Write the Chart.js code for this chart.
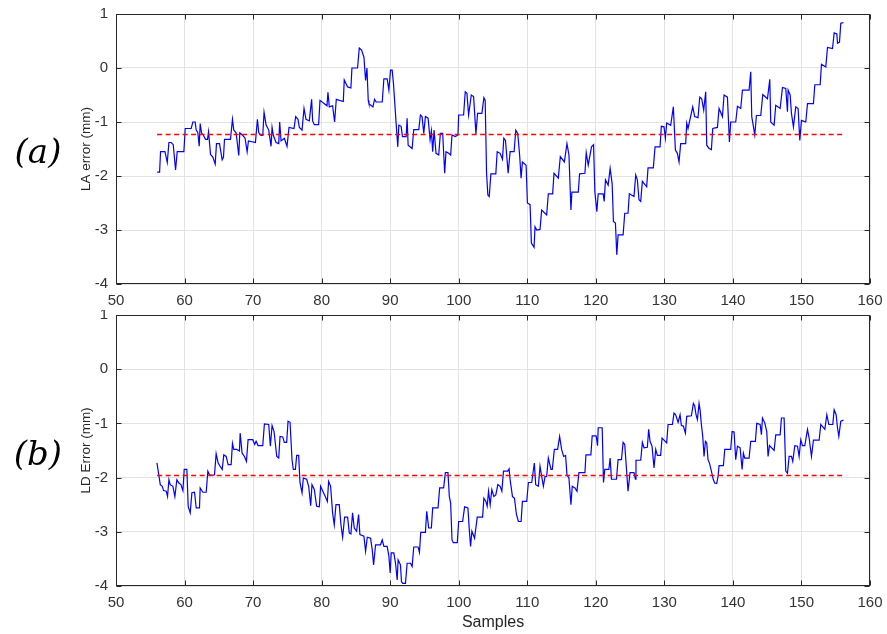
<!DOCTYPE html>
<html><head><meta charset="utf-8">
<script src="https://cdn.jsdelivr.net/npm/chart.js@4"></script>
<style>
html,body{margin:0;padding:0;background:#fff;}
#wrap{position:relative;width:887px;height:634px;overflow:hidden;background:#fff;}
canvas{position:absolute;left:0;}
#cA{top:0;} #cB{top:310px;}
.lab{position:absolute;left:0;width:76px;text-align:center;font-family:"DejaVu Serif",serif;font-style:italic;font-size:34px;color:#000;line-height:34px;}
#la{top:134px;} #lb{top:436px;}
</style></head><body>
<div id="wrap">
<canvas id="cA" width="887" height="315"></canvas>
<canvas id="cB" width="887" height="324"></canvas>
<div class="lab" id="la">(a)</div>
<div class="lab" id="lb">(b)</div>
</div>
<script>
// ---- data ----
const laX = [
56.0,56.36,56.5,57.14,57.48,57.72,58.06,58.35,58.69,58.93,
59.9,60.1,60.97,61.21,61.55,61.7,61.94,62.14,62.28,62.48,
62.77,63.06,63.35,63.5,63.79,64.13,64.47,64.66,65.1,65.49,
65.68,65.83,66.7,66.99,67.18,67.52,67.91,68.06,68.5,68.83,
69.13,69.32,70.34,70.63,70.83,71.17,71.41,71.6,71.89,72.28,
72.62,72.77,72.96,73.35,73.74,73.88,74.08,74.56,74.95,75.24,
75.97,76.21,76.55,76.75,77.14,77.43,77.72,78.2,78.54,78.69,
78.93,79.56,79.76,80.78,80.92,81.12,81.6,81.89,82.14,83.16,
83.3,83.79,84.27,84.42,85.24,85.49,85.83,86.17,86.41,86.61,
86.8,86.9,87.48,87.72,87.96,88.84,89.08,89.56,89.81,90.05,
90.29,90.48,90.87,91.11,91.26,91.6,91.79,92.33,92.47,92.62,
93.2,93.44,94.17,94.41,94.65,94.9,95.14,95.53,95.82,96.01,
96.2,96.4,96.69,97.08,97.32,97.66,97.95,98.14,98.53,98.82,
99.02,99.5,99.89,99.99,100.71,100.95,101.2,101.44,101.83,102.17,
102.51,102.75,103.38,103.67,103.86,104.06,104.25,104.45,104.69,105.41,
105.61,106.04,106.38,106.58,106.82,107.21,107.5,108.08,108.32,108.61,
108.9,109.1,109.29,109.83,110.02,110.41,110.6,110.99,111.13,111.38,
111.86,112.1,112.83,113.07,113.7,113.9,114.53,114.82,115.41,115.79,
116.08,116.37,116.51,117.44,117.63,118.41,118.6,118.89,119.37,119.67,
119.86,120.15,120.35,121.07,121.22,121.41,121.8,122.09,122.38,122.57,
122.86,123.06,123.25,123.98,124.22,124.7,124.89,125.57,125.82,126.06,
126.3,126.55,126.79,127.42,127.62,128.39,128.64,129.37,129.56,129.95,
130.15,130.34,130.92,131.31,131.61,131.9,132.14,132.38,133.11,133.26,
133.45,134.14,134.43,134.91,135.16,135.45,135.74,136.03,136.18,136.52,
136.86,137.06,137.74,137.98,138.47,138.71,139.2,139.49,139.68,140.41,
140.66,141.14,141.39,142.36,142.6,142.75,143.19,143.43,144.06,144.36,
145.04,145.38,145.52,146.01,146.25,146.89,147.23,147.71,147.96,148.05,
148.35,148.54,148.83,149.17,149.51,149.76,150.0,150.63,150.88,151.75,
151.95,152.73,152.92,153.55,153.8,154.53,154.77,155.16,155.26,155.55,
155.74,156.13
];
const laY = [
-1.93,-1.93,-1.55,-1.55,-1.75,-1.38,-1.38,-1.42,-1.89,-1.55,
-1.55,-1.12,-1.12,-1.0,-1.0,-1.15,-1.2,-1.45,-1.03,-1.2,
-1.25,-1.32,-1.32,-1.18,-1.6,-1.65,-1.78,-1.4,-1.4,-1.7,
-1.65,-1.32,-1.32,-0.95,-1.15,-1.2,-1.62,-1.2,-1.25,-1.3,
-1.55,-1.35,-1.38,-0.95,-1.2,-1.25,-1.25,-0.82,-1.05,-1.15,
-1.45,-1.1,-1.25,-1.38,-1.4,-1.0,-1.35,-1.3,-1.45,-1.1,
-1.12,-0.9,-0.95,-1.1,-1.15,-0.75,-0.95,-0.98,-0.58,-0.98,
-1.05,-1.05,-0.6,-0.7,-0.45,-0.72,-0.7,-1.0,-0.58,-0.62,
-0.22,-0.35,-0.37,0.0,0.0,0.37,0.33,0.2,-0.23,0.0,
-0.6,-0.66,-0.72,-0.58,-0.63,-0.63,-0.2,-0.2,-0.41,-0.04,
-0.04,-0.29,-1.03,-1.46,-1.06,-1.08,-1.27,-1.27,-0.93,-1.43,
-1.49,-1.14,-1.14,-0.87,-0.9,-1.21,-0.9,-0.93,-1.33,-1.16,
-1.55,-1.15,-1.58,-1.61,-1.21,-1.21,-1.95,-1.55,-1.58,-1.61,
-1.24,-1.27,-1.24,-0.87,-0.87,-0.44,-0.47,-0.87,-0.5,-0.53,
-1.22,-0.84,-0.84,-0.55,-0.6,-1.95,-2.35,-2.38,-1.96,-1.96,
-1.55,-1.58,-1.69,-1.3,-1.34,-1.95,-1.55,-1.55,-1.15,-1.21,
-1.64,-2.04,-1.74,-1.8,-2.5,-2.53,-3.24,-3.32,-2.94,-3.0,
-2.99,-2.63,-2.72,-2.33,-2.33,-1.95,-2.04,-1.64,-1.74,-1.4,
-1.61,-2.63,-2.3,-2.3,-1.96,-1.95,-1.57,-1.8,-1.46,-1.42,
-2.29,-2.66,-2.33,-2.33,-2.47,-2.07,-2.17,-1.86,-2.14,-2.84,
-2.87,-3.46,-3.09,-3.09,-2.69,-2.69,-2.33,-2.38,-1.98,-2.07,
-2.44,-2.47,-2.1,-2.2,-1.85,-1.85,-1.46,-1.46,-1.08,-1.09,
-1.3,-1.02,-1.06,-0.72,-1.52,-1.58,-1.74,-1.4,-1.4,-1.02,
-1.12,-0.72,-0.9,-0.92,-0.54,-0.57,-0.78,-0.44,-1.43,-1.49,
-1.51,-1.12,-1.1,-0.75,-0.9,-0.5,-0.54,-1.37,-1.0,-1.0,
-0.71,-0.75,-0.41,-0.41,-0.07,-0.9,-1.24,-0.88,-0.88,-0.49,
-0.57,-0.21,-1.0,-1.06,-0.69,-0.75,-0.36,-0.38,-0.81,-0.41,
-0.5,-0.84,-1.09,-0.72,-0.75,-1.34,-0.97,-1.0,-0.66,-0.66,
-0.31,-0.31,0.07,0.02,0.38,0.36,0.65,0.63,0.46,0.48,
0.83,0.84
];
const ldX = [
55.97,56.21,56.46,56.75,56.94,57.33,57.52,57.72,57.91,58.3,
58.59,58.88,59.17,59.47,59.76,59.95,60.34,60.53,60.83,61.07,
61.46,61.7,62.18,62.28,62.67,63.16,63.4,63.64,64.03,64.37,
64.61,64.9,65.49,65.73,66.07,66.36,66.8,66.99,67.18,67.62,
68.01,68.11,68.4,68.74,69.03,69.27,69.95,70.24,70.44,70.73,
71.41,71.65,72.28,72.52,72.77,73.06,73.45,73.74,73.93,74.32,
74.56,74.9,75.1,75.39,75.68,75.87,76.17,76.36,76.65,76.84,
77.14,77.33,77.82,78.11,78.4,78.59,78.93,79.27,79.66,79.85,
80.24,80.53,80.83,81.02,81.31,81.6,81.84,82.09,82.57,82.82,
83.06,83.35,83.79,84.03,84.27,84.51,84.76,85.1,85.39,85.58,
86.17,86.41,86.66,87.14,87.38,87.58,87.87,88.59,88.84,89.08,
89.56,89.81,90.0,90.15,90.53,90.78,91.02,91.16,91.5,91.65,
91.84,92.23,92.47,92.96,93.2,93.44,94.07,94.27,94.46,95.14,
95.33,95.62,96.01,96.2,96.98,97.22,97.8,98.05,98.43,98.63,
98.82,99.02,99.21,99.79,99.99,100.57,100.86,101.34,101.54,101.73,
101.92,102.31,102.7,103.48,103.67,103.96,104.15,104.35,104.59,104.83,
105.12,105.41,105.71,106.04,106.29,106.53,107.16,107.35,107.5,107.84,
108.13,108.42,108.71,109.1,109.29,109.92,110.16,110.65,111.03,111.23,
111.62,111.86,112.1,112.35,112.59,112.83,113.07,113.46,113.65,113.95,
114.43,114.72,115.01,115.3,115.59,115.79,116.08,116.37,116.56,116.95,
117.25,117.54,118.41,118.56,119.28,119.47,120.05,120.25,120.35,120.93,
121.12,121.31,121.9,122.09,122.28,123.01,123.25,123.74,123.98,124.22,
124.51,124.7,124.79,124.99,125.57,125.77,125.86,126.55,126.79,127.03,
127.52,127.71,127.91,128.2,128.49,128.74,128.98,129.46,129.66,130.34,
130.54,131.17,131.41,131.65,132.0,132.29,132.48,132.77,133.07,133.26,
133.94,134.23,134.43,134.62,134.82,135.06,135.21,135.4,135.6,135.79,
135.99,136.18,136.37,136.57,136.86,137.15,137.35,137.64,137.83,137.98,
138.61,138.81,139.68,139.88,140.17,140.41,140.66,141.05,141.34,141.53,
141.73,142.36,142.6,143.28,143.48,143.97,144.16,144.31,144.65,144.94,
145.13,145.33,146.01,146.25,146.89,147.08,147.47,147.71,147.96,148.2,
148.54,148.73,149.03,149.42,149.66,149.9,150.15,150.49,150.88,151.12,
151.46,151.75,152.58,152.82,153.41,153.7,153.99,154.57,154.77,155.06,
155.26,155.45,155.74,156.13
];
const ldY = [
-1.73,-1.92,-2.13,-2.16,-2.24,-2.25,-2.35,-2.04,-2.13,-2.16,
-2.35,-2.04,-2.1,-2.13,-2.24,-1.85,-1.85,-2.53,-2.65,-2.28,
-2.27,-2.56,-2.56,-2.19,-2.27,-2.27,-1.88,-1.95,-1.96,-1.95,
-1.56,-1.73,-1.85,-1.58,-1.61,-1.76,-1.76,-1.37,-1.48,-1.48,
-1.51,-1.18,-1.55,-1.61,-1.7,-1.3,-1.3,-1.39,-1.33,-1.41,
-1.41,-1.01,-1.02,-1.42,-1.04,-1.15,-1.61,-1.64,-1.24,-1.25,
-1.35,-1.35,-0.96,-0.98,-1.67,-1.85,-1.85,-1.59,-1.59,-2.09,
-2.28,-2.01,-2.03,-2.16,-2.52,-2.13,-2.22,-2.53,-2.54,-2.16,
-2.27,-2.35,-2.44,-2.07,-2.16,-2.65,-2.87,-2.5,-2.5,-2.87,
-3.1,-2.73,-2.73,-3.02,-3.04,-2.65,-2.93,-2.99,-2.68,-3.05,
-3.08,-3.36,-3.1,-3.12,-3.33,-3.61,-3.24,-3.24,-3.15,-3.27,
-3.27,-3.45,-3.76,-3.39,-3.39,-3.58,-3.89,-3.52,-3.61,-3.92,
-3.95,-3.95,-3.58,-3.58,-3.64,-3.28,-3.28,-3.38,-3.01,-3.01,
-2.62,-2.93,-2.93,-2.56,-2.56,-2.19,-2.19,-1.91,-1.91,-2.35,
-2.47,-3.15,-3.2,-3.2,-2.81,-2.81,-2.54,-2.56,-2.96,-3.27,
-2.99,-3.12,-2.73,-2.73,-2.38,-2.44,-2.53,-2.25,-2.5,-2.22,
-2.35,-2.32,-2.13,-2.16,-2.25,-1.88,-1.88,-1.84,-2.04,-2.35,
-2.38,-2.68,-2.81,-2.81,-2.44,-2.44,-2.09,-2.09,-1.73,-2.13,
-2.16,-1.79,-1.98,-2.16,-1.98,-1.98,-1.64,-1.85,-1.85,-1.48,
-1.48,-1.24,-1.48,-1.61,-1.59,-1.95,-2.01,-2.5,-2.16,-2.19,
-2.25,-1.91,-1.91,-1.58,-1.58,-1.23,-1.23,-1.41,-1.08,-1.08,
-2.09,-1.85,-1.85,-1.64,-2.03,-2.03,-1.67,-1.67,-1.35,-1.39,
-1.91,-2.25,-2.25,-1.91,-1.91,-2.03,-1.68,-1.68,-1.35,-1.45,
-1.44,-1.11,-1.33,-1.42,-1.82,-1.48,-1.59,-1.59,-1.27,-1.36,
-1.02,-1.02,-0.81,-0.84,-0.98,-0.84,-1.04,-1.05,-1.18,-0.87,
-0.86,-0.63,-0.68,-0.84,-0.93,-0.63,-0.75,-1.02,-1.24,-1.61,
-1.33,-1.36,-1.67,-1.73,-1.88,-2.04,-2.1,-2.11,-1.98,-1.78,
-1.78,-1.48,-1.48,-1.15,-1.16,-1.67,-1.42,-1.45,-1.85,-1.55,
-1.64,-1.64,-1.33,-1.33,-1.0,-1.02,-1.21,-0.9,-0.99,-1.15,
-1.61,-1.41,-1.5,-1.21,-1.21,-0.9,-0.9,-1.88,-1.92,-1.61,
-1.61,-1.7,-1.41,-1.42,-1.61,-1.3,-1.41,-1.41,-1.11,-1.27,
-1.61,-1.31,-1.31,-1.02,-1.11,-0.84,-1.02,-1.02,-0.75,-0.84,
-1.08,-1.24,-0.96,-0.94
];
const laMean = -1.23;
const ldMean = -1.96;
const meanRange = [56, 156];
const xRange = [50, 160];
const yRange = [-4, 1];

// ---- drawing ----
const FONT = '"Liberation Sans", Arial, Helvetica, sans-serif';
const frame = {
  id: 'frame',
  afterDraw(chart, args, o) {
    const {ctx, chartArea: a, scales: {x, y}} = chart;
    ctx.save();
    ctx.strokeStyle = '#262626';
    ctx.lineWidth = 1;
    const L = Math.round(a.left) + 0.5, R = Math.round(a.right) - 0.5;
    const T = Math.round(a.top) + 0.5, B = Math.round(a.bottom) - 0.5;
    ctx.strokeRect(L, T, R - L, B - T);
    const tl = 5;
    ctx.beginPath();
    x.ticks.forEach(t => {
      const px = Math.round(x.getPixelForValue(t.value)) + 0.5;
      ctx.moveTo(px, B); ctx.lineTo(px, B - tl);
      ctx.moveTo(px, T); ctx.lineTo(px, T + tl);
    });
    y.ticks.forEach(t => {
      const py = Math.round(y.getPixelForValue(t.value)) + 0.5;
      ctx.moveTo(L, py); ctx.lineTo(L + tl, py);
      ctx.moveTo(R, py); ctx.lineTo(R - tl, py);
    });
    ctx.stroke();
    ctx.fillStyle = '#262626';
    ctx.textAlign = 'center';
    ctx.textBaseline = 'middle';
    ctx.font = '13.5px ' + FONT;
    ctx.save();
    ctx.translate(o.yTitleX, (a.top + a.bottom) / 2);
    ctx.rotate(-Math.PI / 2);
    ctx.fillText(o.yTitle, 0, 0);
    ctx.restore();
    if (o.xTitle) {
      ctx.font = '16px ' + FONT;
      ctx.fillText(o.xTitle, (a.left + a.right) / 2, o.xTitleY);
    }
    ctx.restore();
  }
};

function makeChart(id, xs, ys, meanVal, padTop, xAxisH, yTitle, xTitle, xTitleY) {
  const pts = xs.map((v, i) => ({x: v, y: ys[i]}));
  const meanPts = meanRange.map(v => ({x: v, y: meanVal}));
  return new Chart(document.getElementById(id), {
    type: 'line',
    data: {
      datasets: [
        {data: meanPts, borderColor: '#ff0000', borderWidth: 1.5, borderDash: [5, 3.5], pointRadius: 0, fill: false},
        {data: pts, borderColor: '#0000ff', borderWidth: 1.2, pointRadius: 0, fill: false, tension: 0}
      ]
    },
    options: {
      responsive: false, animation: false, devicePixelRatio: 1, events: [],
      layout: {padding: {top: padTop, right: 17, left: 0, bottom: 0}},
      plugins: {legend: {display: false}, tooltip: {enabled: false},
        frame: {yTitle: yTitle, yTitleX: 86, xTitle: xTitle, xTitleY: xTitleY}},
      scales: {
        x: {type: 'linear', min: xRange[0], max: xRange[1],
          ticks: {stepSize: 10, padding: 8, color: '#333', font: {size: 15, family: FONT}, maxRotation: 0, autoSkip: false},
          grid: {color: '#e3e3e3', drawTicks: false}, border: {display: false},
          afterFit(s) { s.height = xAxisH; s.paddingLeft = 0; s.paddingRight = 0; }},
        y: {type: 'linear', min: yRange[0], max: yRange[1],
          ticks: {stepSize: 1, padding: 8, color: '#333', font: {size: 15, family: FONT}},
          grid: {color: '#e3e3e3', drawTicks: false}, border: {display: false},
          afterFit(s) { s.width = 116; s.paddingTop = 0; s.paddingBottom = 0; }}
      }
    },
    plugins: [frame]
  });
}

makeChart('cA', laX, laY, laMean, 14, 31, 'LA error (mm)', '', 0);
makeChart('cB', ldX, ldY, ldMean, 5, 48, 'LD Error (mm)', 'Samples', 313);
</script>
</body></html>
